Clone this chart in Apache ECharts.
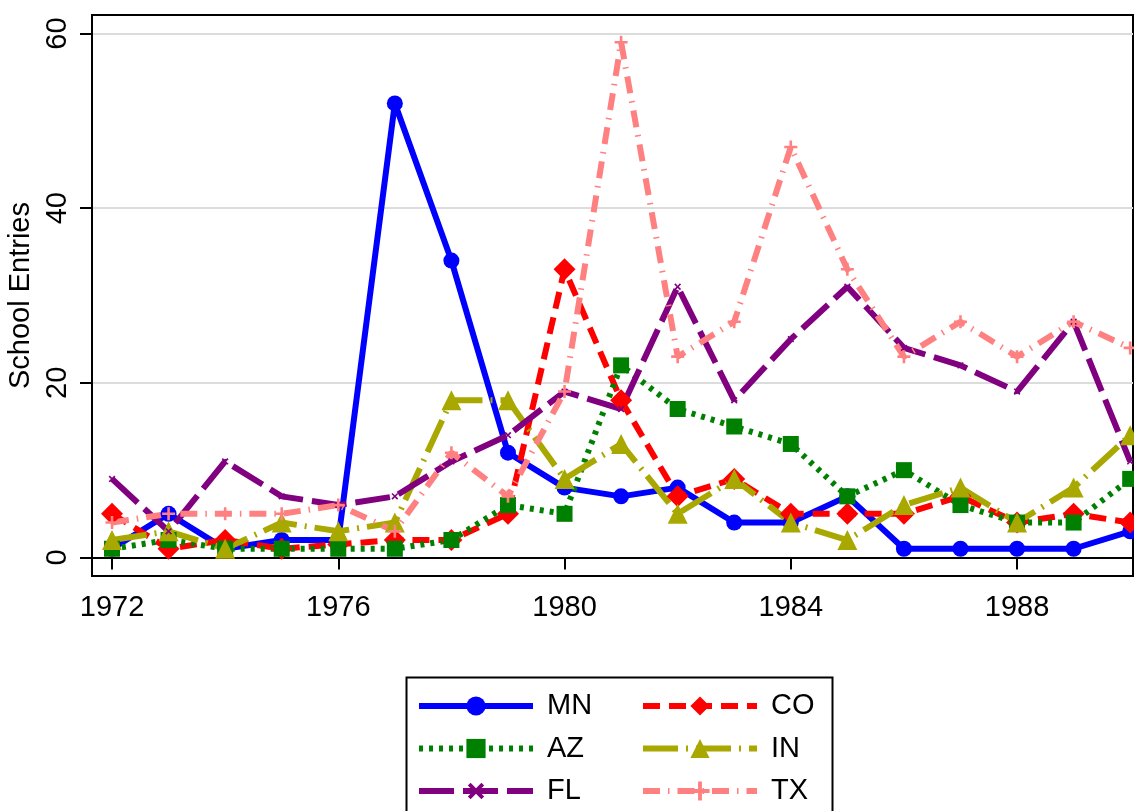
<!DOCTYPE html>
<html>
<head>
<meta charset="utf-8">
<script src="https://cdn.jsdelivr.net/npm/echarts@6/dist/echarts.min.js"></script>
<style>html,body{margin:0;padding:0;background:#fff;}#c{width:1134px;height:811px;}</style>
</head>
<body>
<div id="c"></div>
<script>
const years = [1972,1973,1974,1975,1976,1977,1978,1979,1980,1981,1982,1983,1984,1985,1986,1987,1988,1989,1990];
const MN = [1,5,1,2,2,52,34,12,8,7,8,4,4,7,1,1,1,1,3];
const CO = [5,1,2,1,1.5,2,2,5,33,18,7,9,5,5,5,7,4,5,4];
const AZ = [1,2,1,1,1,1,2,6,5,22,17,15,13,7,10,6,4,4,9];
const IN = [2,3,1,4,3,4,18,18,9,13,5,9,4,2,6,8,4,8,14];
const FL = [9,3,11,7,6,7,11,14,19,17,31,18,25,31,24,22,19,27,11];
const TX = [4,5,5,5,6,3,12,7,19,59,23,27,47,33,23,27,23,27,24];
const xTicks = [1972,1976,1980,1984,1988];
const yTicks = [0,20,40,60];
const yTitle = 'School Entries';

const FONT = 'Liberation Sans, Arial, Helvetica, sans-serif';
const plus = 'path://M4,0H6V4H10V6H6V10H4V6H0V4H4Z';
const LW = 6;
function pts(v){ return years.map((y,i)=>[y, v[i]]); }
const styles = {
  MN:{color:'#0000ff', dash:'solid', symbol:'circle', size:16},
  CO:{color:'#ff0000', dash:[17,9], symbol:'diamond', size:22},
  AZ:{color:'#008000', dash:[4,6], symbol:'rect', size:16},
  IN:{color:'#a8a800', dash:[35,8,2,8], symbol:'triangle', size:20},
  FL:{color:'#800080', dash:[35,9], symbol:plus, size:8, rot:45},
  TX:{color:'#ff8080', dash:[17,8,1.5,8], symbol:plus, size:13}
};
const dataMap = {MN, CO, AZ, IN, FL, TX};
const names = ['MN','CO','AZ','IN','FL','TX'];
const series = names.map(n=>{
  const s = styles[n];
  return {
    name:n, type:'line', data:pts(dataMap[n]), symbol:s.symbol, symbolSize:s.size, symbolRotate:s.rot||0,
    itemStyle:{color:s.color}, lineStyle:{color:s.color, width:LW, type:s.dash, cap:'butt'},
    emphasis:{disabled:true}, animation:false
  };
});
const legendText = {fontSize:29, color:'#000', fontFamily:FONT, lineHeight:30, padding:[0,0,0,9]};
const legends = names.map((n,i)=>({
  left: i%2 ? 640 : 416, top: 691 + Math.floor(i/2)*42.5, padding:0,
  itemWidth:114, itemHeight:24, data:[n], textStyle:legendText, selectedMode:false,
  lineStyle:{width:LW, type:styles[n].dash, color:styles[n].color}
}));
const chart = echarts.init(document.getElementById('c'), null, {renderer:'canvas'});
chart.setOption({
  animation:false,
  backgroundColor:'#fff',
  grid:{left:92, right:1, top:15, bottom:235, show:true, borderColor:'#000', borderWidth:2, backgroundColor:'transparent', outerBoundsMode:'none', containLabel:false},
  xAxis:{type:'value', min:1971.646, max:1990.05,
    axisLine:{show:true, lineStyle:{color:'#000', width:2}},
    axisTick:{show:true, length:12, lineStyle:{color:'#000', width:2}, customValues:xTicks},
    axisLabel:{fontSize:29, color:'#000', fontFamily:FONT, margin:17, customValues:xTicks, formatter:v=>String(v)},
    splitLine:{show:false}},
  yAxis:{type:'value', min:-2.12, max:62.12,
    name:yTitle, nameLocation:'middle', nameGap:49, nameRotate:90,
    nameTextStyle:{fontSize:29, color:'#000', fontFamily:FONT},
    axisLine:{show:true, lineStyle:{color:'#000', width:2}},
    axisTick:{show:true, length:12, lineStyle:{color:'#000', width:2}, customValues:yTicks},
    axisLabel:{fontSize:29, color:'#000', fontFamily:FONT, rotate:90, margin:20, customValues:yTicks},
    splitLine:{show:true, lineStyle:{color:'#dcdcdc', width:2}}},
  legend:legends,
  graphic:[{type:'rect', left:404, top:675, shape:{width:426, height:200}, style:{fill:'none', stroke:'#000', lineWidth:2}, silent:true}],
  series
});
</script>
</body>
</html>
